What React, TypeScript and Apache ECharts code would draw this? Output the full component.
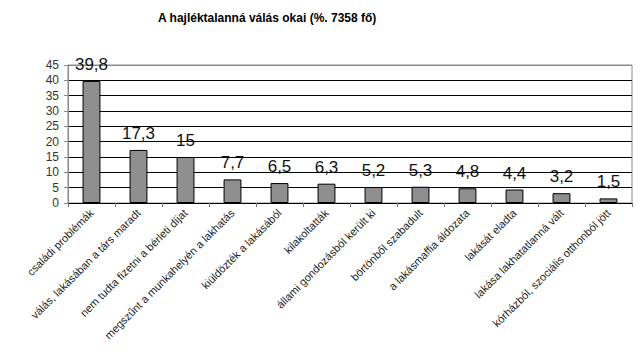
import React, { useEffect, useRef } from "react";
import * as echarts from "echarts";

const titleText = "A hajléktalanná válás okai (%. 7358 fő)";
const categories = [
  "családi problémák",
  "válás, lakásában a társ maradt",
  "nem tudta fizetni a bérleti díjat",
  "megszűnt a munkahelyén a lakhatás",
  "kiüldözték a lakásából",
  "kilakoltatták",
  "állami gondozásból került ki",
  "börtönből szabadult",
  "a lakásmaffia áldozata",
  "lakását eladta",
  "lakása lakhatatlanná vált",
  "kórházból, szociális otthonból jött",
];
const values = [39.8, 17.3, 15, 7.7, 6.5, 6.3, 5.2, 5.3, 4.8, 4.4, 3.2, 1.5];
const yMin = 0;
const yMax = 45;
const yStep = 5;

export default function App() {
  const ref = useRef<HTMLDivElement>(null);
  useEffect(() => {
    document.body.style.margin = "0";
    if (!ref.current) return;
    const chart = echarts.init(ref.current, null, { renderer: "svg" });
    const font = "Arial, 'Liberation Sans', sans-serif";
    chart.setOption({
      animation: false,
      backgroundColor: "#ffffff",
      title: {
        text: titleText,
        left: 153,
        top: 7,
        textStyle: { fontFamily: font, fontSize: 12, fontWeight: "bold", color: "#000" },
      },
      grid: {
        left: 68,
        right: 8,
        top: 65,
        height: 138,
        show: true,
        borderColor: "#8a8a8a",
        borderWidth: 1,
        backgroundColor: "transparent",
      },
      xAxis: {
        type: "category",
        data: categories,
        axisLine: { show: true, lineStyle: { color: "#000", width: 1 } },
        axisTick: { show: true, length: 4, lineStyle: { color: "#777" } },
        axisLabel: {
          interval: 0,
          rotate: 45,
          margin: 8,
          fontFamily: font,
          fontSize: 11,
          color: "#222",
        },
      },
      yAxis: {
        type: "value",
        min: yMin,
        max: yMax,
        interval: yStep,
        axisLine: { show: true, lineStyle: { color: "#8a8a8a" } },
        axisTick: { show: true, length: 4, lineStyle: { color: "#8a8a8a" } },
        axisLabel: { margin: 9, fontFamily: font, fontSize: 12, color: "#333" },
        splitLine: {
          show: true,
          lineStyle: {
            color: ["#000", "#000", "#000", "#000", "#000", "#000", "#000", "#000", "#000", "#8a8a8a"],
            width: 1,
          },
        },
      },
      series: [
        {
          type: "bar",
          data: values,
          barWidth: "38%",
          itemStyle: { color: "#8f8f8f", borderColor: "#000", borderWidth: 1 },
          label: {
            show: true,
            position: "top",
            distance: 8,
            fontFamily: font,
            fontSize: 17,
            color: "#111",
            formatter: (p: any) => String(p.value).replace(".", ","),
          },
        },
      ],
    });
    return () => chart.dispose();
  }, []);
  return <div ref={ref} style={{ width: 640, height: 360 }} />;
}
